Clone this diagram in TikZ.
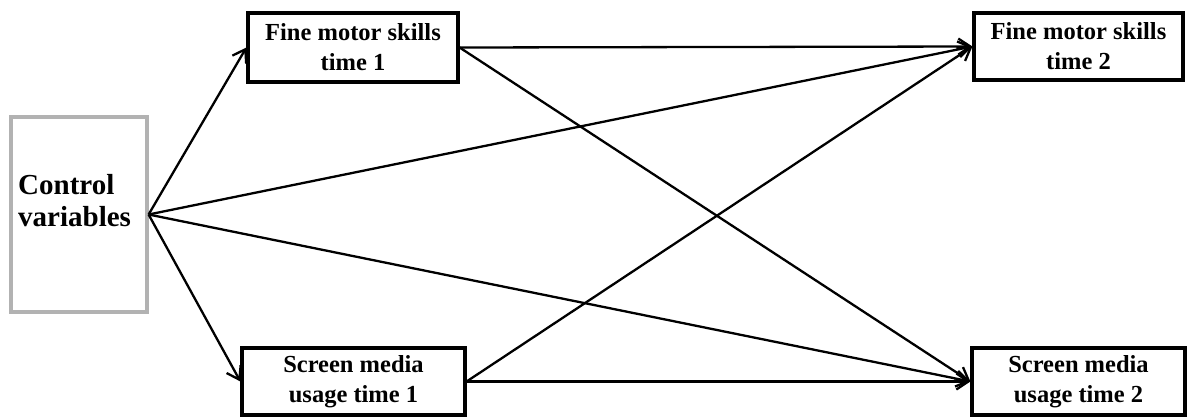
\documentclass[tikz,border=0pt]{standalone}
\usepackage{fontspec}
\setmainfont{Liberation Serif}
\usetikzlibrary{arrows.meta}
\begin{document}
\begin{tikzpicture}[x=1pt,y=-1pt,
  varbox/.style={draw=black,line width=3.2pt,rectangle,inner sep=0pt,align=center,
    font=\fontsize{24.5}{30}\selectfont\bfseries},
  ctrlbox/.style={draw=black!30,line width=3.2pt,rectangle,inner sep=0pt},
  ctrltext/.style={anchor=west,align=left,inner sep=0pt,font=\fontsize{29}{32}\selectfont\bfseries},
  conn/.style={line width=2.3pt,-{Straight Barb[length=12pt,width=16pt,line width=2.3pt]}}]
\useasboundingbox (0,0) rectangle (1187,416);
\node[ctrlbox,minimum width=136pt,minimum height=195pt] (ctrl) at (79,214.5) {};
\node[ctrltext] (ctrlt) at (18,201) {Control\\variables};
\node[varbox,minimum width=210pt,minimum height=69pt] (fms1) at (353,47.5) {Fine motor skills\\time 1};
\node[varbox,minimum width=209pt,minimum height=67pt] (fms2) at (1078.5,46.5) {Fine motor skills\\time 2};
\node[varbox,minimum width=223pt,minimum height=67pt] (smu1) at (353.5,381.5) {Screen media\\usage time 1};
\node[varbox,minimum width=213pt,minimum height=67pt] (smu2) at (1078.5,381.5) {Screen media\\usage time 2};
\draw[conn] (ctrl.east) -- (fms1.west);
\draw[conn] (ctrl.east) -- (smu1.west);
\draw[conn] (ctrl.east) -- (fms2.west);
\draw[conn] (ctrl.east) -- (smu2.west);
\draw[conn] (fms1.east) -- (fms2.west);
\draw[conn] (fms1.east) -- (smu2.west);
\draw[conn] (smu1.east) -- (fms2.west);
\draw[conn] (smu1.east) -- (smu2.west);
\end{tikzpicture}
\end{document}
